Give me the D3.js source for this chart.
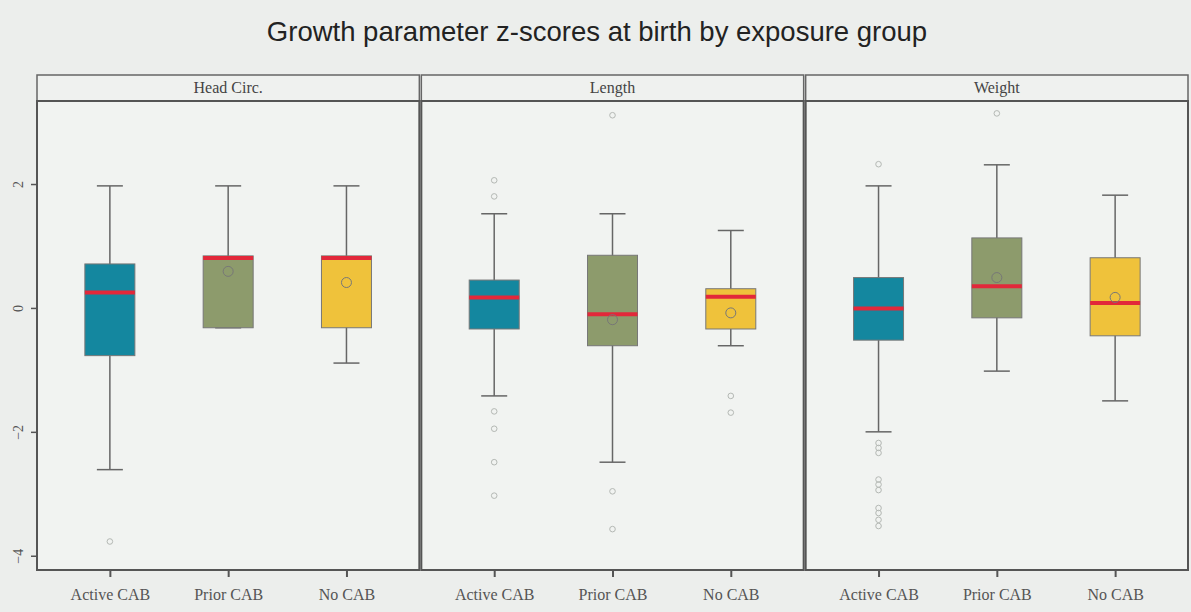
<!DOCTYPE html>
<html>
<head>
<meta charset="utf-8">
<script src="https://cdn.jsdelivr.net/npm/d3@7"></script>
<style>
  body { margin: 0; background: #eceeec; }
  svg { display: block; }
</style>
</head>
<body>
<svg id="chart" width="1191" height="612"></svg>
<script>
// groups and panels
const groups = ["Active CAB", "Prior CAB", "No CAB"];
const panels = ["Head Circ.", "Length", "Weight"];
const groupColors = ["#14879f", "#8d9b6c", "#efc23b"];
const yTicks = [2, 0, -2, -4];

// box stats per panel, in group order: [lowWhisker, q1, median, q3, highWhisker]
const headStats = [
  [-2.61, -0.77, 0.25, 0.71, 1.97],
  [-0.32, -0.32, 0.84, 0.84, 1.97],
  [-0.89, -0.32, 0.84, 0.84, 1.97]
];
const lengthStats = [
  [-1.42, -0.34, 0.17, 0.45, 1.52],
  [-2.49, -0.61, -0.10, 0.85, 1.52],
  [-0.61, -0.34, 0.18, 0.31, 1.25]
];
const weightStats = [
  [-2.00, -0.52, -0.01, 0.49, 1.97],
  [-1.02, -0.16, 0.35, 1.13, 2.31],
  [-1.50, -0.45, 0.08, 0.81, 1.82]
];

// means (null = not shown)
const headMeans = [null, 0.59, 0.41];
const lengthMeans = [null, -0.19, -0.08];
const weightMeans = [null, 0.49, 0.17];

// outliers
const headOutliers = [[-3.77], [], []];
const lengthOutliers = [
  [2.06, 1.80, -1.67, -1.95, -2.49, -3.03],
  [3.11, -2.96, -3.57],
  [-1.42, -1.69]
];
const weightOutliers = [
  [2.32, -2.18, -2.26, -2.34, -2.77, -2.85, -2.94, -3.23, -3.31, -3.42, -3.52],
  [3.14],
  []
];

const panelData = [
  { name: panels[0], stats: headStats, means: headMeans, outliers: headOutliers },
  { name: panels[1], stats: lengthStats, means: lengthMeans, outliers: lengthOutliers },
  { name: panels[2], stats: weightStats, means: weightMeans, outliers: weightOutliers }
];

const svg = d3.select("#chart");
const W = 1191;

// layout
const left = 37, right = 1188, gap = 2;
const stripTop = 75, stripBottom = 101, plotBottom = 570;
const panelW = (right - left - 2 * gap) / 3;

const y = d3.scaleLinear().domain([-4.23, 3.34]).range([plotBottom, stripBottom]);

svg.append("rect").attr("width", W).attr("height", 612).attr("fill", "#eceeec");

svg.append("text")
  .attr("x", 597).attr("y", 41)
  .attr("text-anchor", "middle")
  .attr("font-family", "Liberation Sans, Arial, sans-serif")
  .attr("font-size", 27.5)
  .attr("fill", "#222")
  .text("Growth parameter z-scores at birth by exposure group");

// y axis (shared, left)
const yAxis = svg.append("g")
  .attr("transform", `translate(${left},0)`)
  .call(d3.axisLeft(y).tickValues(yTicks).tickSize(6).tickFormat(d3.format("d")));
yAxis.select(".domain").remove();
yAxis.selectAll(".tick line").attr("stroke", "#555").attr("stroke-width", 1.5);
yAxis.selectAll(".tick text")
  .attr("font-family", "Liberation Serif, Times New Roman, serif")
  .attr("font-size", 14).attr("fill", "#555")
  .attr("x", null).attr("dy", null)
  .attr("text-anchor", "middle")
  .attr("transform", "translate(-18,0) rotate(-90)")
  .attr("y", 4);

panelData.forEach((p, i) => {
  const x0 = left + i * (panelW + gap);
  const g = svg.append("g");

  const x = d3.scalePoint().domain(groups).range([x0, x0 + panelW]).padding(0.616);

  // panel background
  g.append("rect")
    .attr("x", x0).attr("y", stripBottom)
    .attr("width", panelW).attr("height", plotBottom - stripBottom)
    .attr("fill", "#f1f3f1");

  // strip
  g.append("rect")
    .attr("x", x0).attr("y", stripTop)
    .attr("width", panelW).attr("height", stripBottom - stripTop)
    .attr("fill", "#eff1ef").attr("stroke", "#666").attr("stroke-width", 1.5);
  g.append("text")
    .attr("x", x0 + panelW / 2).attr("y", stripTop + 18)
    .attr("text-anchor", "middle")
    .attr("font-family", "Liberation Serif, Times New Roman, serif")
    .attr("font-size", 16).attr("fill", "#444")
    .text(p.name);

  // outliers
  p.outliers.forEach((vals, gi) => {
    g.selectAll(null).data(vals).enter().append("circle")
      .attr("cx", x(groups[gi])).attr("cy", d => y(d))
      .attr("r", 2.8).attr("fill", "none")
      .attr("stroke", "#b4b8b4").attr("stroke-width", 1);
  });

  const boxW = 50, capW = 26;
  const boxes = g.selectAll(".box").data(p.stats).enter().append("g")
    .attr("class", "box")
    .attr("transform", (d, gi) => `translate(${x(groups[gi])},0)`);

  // whiskers
  boxes.append("line")
    .attr("y1", d => y(d[0])).attr("y2", d => y(d[4]))
    .attr("stroke", "#666").attr("stroke-width", 1.5);
  boxes.append("line")
    .attr("x1", -capW / 2).attr("x2", capW / 2)
    .attr("y1", d => y(d[4])).attr("y2", d => y(d[4]))
    .attr("stroke", "#666").attr("stroke-width", 1.5);
  boxes.append("line")
    .attr("x1", -capW / 2).attr("x2", capW / 2)
    .attr("y1", d => y(d[0])).attr("y2", d => y(d[0]))
    .attr("stroke", "#666").attr("stroke-width", 1.5);

  // box
  boxes.append("rect")
    .attr("x", -boxW / 2).attr("width", boxW)
    .attr("y", d => y(d[3])).attr("height", d => y(d[1]) - y(d[3]))
    .attr("fill", (d, gi) => groupColors[gi])
    .attr("stroke", "#777").attr("stroke-width", 1);

  // median
  boxes.append("line")
    .attr("x1", -boxW / 2).attr("x2", boxW / 2)
    .attr("y1", d => y(d[2]) + (d[2] === d[3] ? 2 : 0))
    .attr("y2", d => y(d[2]) + (d[2] === d[3] ? 2 : 0))
    .attr("stroke", "#e2283a").attr("stroke-width", 4);

  // means
  p.means.forEach((m, gi) => {
    if (m === null) return;
    g.append("circle")
      .attr("cx", x(groups[gi])).attr("cy", y(m))
      .attr("r", 5).attr("fill", "none")
      .attr("stroke", "#777").attr("stroke-width", 1);
  });

  // panel frame
  g.append("rect")
    .attr("x", x0).attr("y", stripBottom)
    .attr("width", panelW).attr("height", plotBottom - stripBottom)
    .attr("fill", "none").attr("stroke", "#555").attr("stroke-width", 2);

  // x axis
  const xAxis = g.append("g")
    .attr("transform", `translate(0,${plotBottom})`)
    .call(d3.axisBottom(x).tickSize(7).tickPadding(12));
  xAxis.select(".domain").remove();
  xAxis.selectAll(".tick line").attr("stroke", "#555").attr("stroke-width", 2);
  xAxis.selectAll(".tick text")
    .attr("font-family", "Liberation Serif, Times New Roman, serif")
    .attr("font-size", 16).attr("fill", "#555");
});
</script>
</body>
</html>
